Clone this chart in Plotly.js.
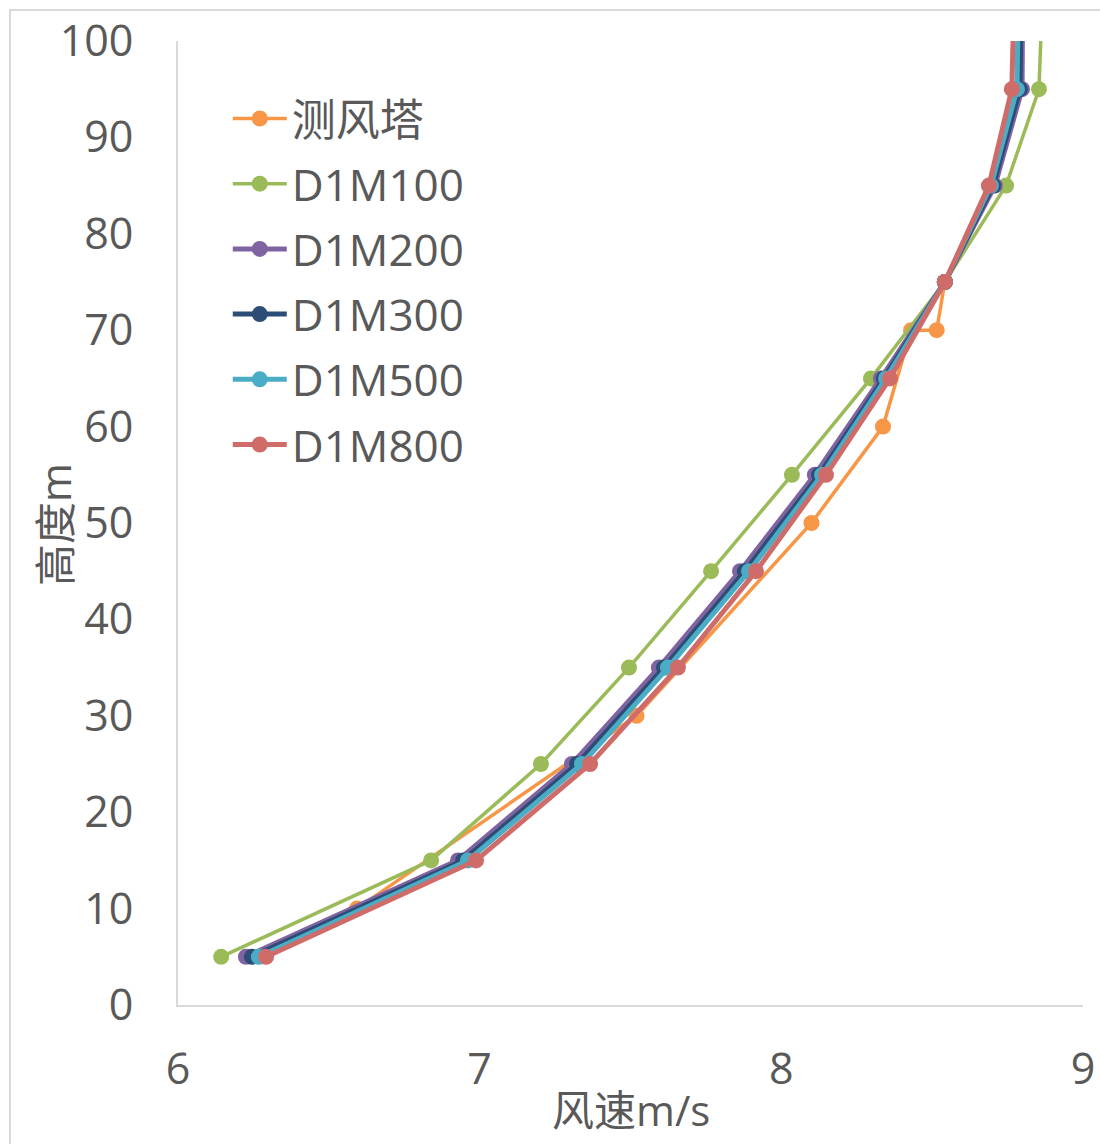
<!DOCTYPE html>
<html>
<head>
<meta charset="utf-8">
<script src="https://cdn.plot.ly/plotly-3.0.1.min.js"></script>
<style>
  html, body { margin: 0; padding: 0; background: #ffffff; }
  #wrap { position: relative; width: 1100px; height: 1144px; }
  #chart { position: absolute; left: 0; top: 0; width: 1100px; height: 1144px; }
  #frame { position: absolute; left: 9px; top: 9px; width: 1100px; height: 1150px;
           border: 2px solid #d9d9d9; box-sizing: border-box; pointer-events: none; }
</style>
</head>
<body>
<div id="wrap">
  <div id="chart"></div>
  <div id="frame"></div>
</div>
<script>
// Wind profile: wind speed (m/s) against height (m)
const towerHeights = [10, 30, 50, 60, 70, 70, 75];
const towerSpeed   = [6.593, 7.52, 8.10, 8.337, 8.43, 8.515, 8.542];

const modelHeights = [5, 15, 25, 35, 45, 55, 65, 75, 85, 95, 105];
const speedD1M100 = [6.143, 6.839, 7.203, 7.495, 7.767, 8.035, 8.297, 8.542, 8.745, 8.854, 8.866];
const speedD1M200 = [6.225, 6.928, 7.306, 7.594, 7.863, 8.111, 8.330, 8.542, 8.708, 8.798, 8.800];
const speedD1M300 = [6.245, 6.945, 7.323, 7.611, 7.879, 8.125, 8.340, 8.542, 8.702, 8.791, 8.795];
const speedD1M500 = [6.268, 6.961, 7.339, 7.624, 7.893, 8.135, 8.347, 8.542, 8.695, 8.781, 8.786];
const speedD1M800 = [6.292, 6.988, 7.366, 7.657, 7.916, 8.148, 8.360, 8.542, 8.688, 8.764, 8.772];

const seriesNames  = ['测风塔', 'D1M100', 'D1M200', 'D1M300', 'D1M500', 'D1M800'];
const seriesColors = ['#F79646', '#9BBB59', '#8064A2', '#2C4D75', '#4BACC6', '#CF6C6A'];

const seriesX = [towerSpeed, speedD1M100, speedD1M200, speedD1M300, speedD1M500, speedD1M800];
const seriesY = [towerHeights, modelHeights, modelHeights, modelHeights, modelHeights, modelHeights];

const traces = seriesNames.map((name, i) => ({
  type: 'scatter',
  mode: 'lines+markers',
  name: name,
  legendgroup: 'g' + i,
  x: seriesX[i],
  y: seriesY[i],
  line: { color: seriesColors[i], width: i === 0 || i === 1 ? 3.5 : 5 },
  marker: { color: seriesColors[i], size: 16 },
  cliponaxis: true
}));

const fontFamily = '"Open Sans", "Noto Sans CJK SC", sans-serif';
const textColor = '#595959';

const layout = {
  width: 1100,
  height: 1144,
  margin: { l: 178, r: 17, t: 41, b: 139 },
  paper_bgcolor: '#ffffff',
  plot_bgcolor: '#ffffff',
  font: { family: fontFamily, color: textColor, size: 43 },
  showlegend: true,
  legend: {
    x: 0.055, y: 0.956, xanchor: 'left', yanchor: 'top',
    bgcolor: 'rgba(0,0,0,0)',
    font: { family: fontFamily, size: 44, color: textColor },
    itemwidth: 54,
    tracegroupgap: 5
  },
  xaxis: {
    range: [6, 9],
    dtick: 1,
    tick0: 6,
    showgrid: false,
    zeroline: false,
    showline: true,
    linecolor: '#d9d9d9',
    linewidth: 2,
    ticks: 'outside',
    ticklen: 25,
    tickcolor: 'rgba(0,0,0,0)',
    tickfont: { family: fontFamily, size: 43, color: textColor }
  },
  yaxis: {
    range: [0, 100],
    dtick: 10,
    tick0: 0,
    showgrid: false,
    zeroline: false,
    showline: true,
    linecolor: '#d9d9d9',
    linewidth: 2,
    ticks: 'outside',
    ticklen: 34,
    tickcolor: 'rgba(0,0,0,0)',
    tickfont: { family: fontFamily, size: 43, color: textColor }
  },
  annotations: [
    {
      text: '风速m/s', xref: 'paper', yref: 'paper',
      x: 0.5, y: -0.1089, xanchor: 'center', yanchor: 'middle',
      showarrow: false, font: { family: fontFamily, size: 42, color: textColor }
    },
    {
      text: '高度m', xref: 'paper', yref: 'paper',
      x: -0.1359, y: 0.498, xanchor: 'center', yanchor: 'middle',
      textangle: -90, showarrow: false,
      font: { family: fontFamily, size: 42, color: textColor }
    }
  ]
};

Plotly.newPlot('chart', traces, layout, { displayModeBar: false, staticPlot: true });
</script>
</body>
</html>
